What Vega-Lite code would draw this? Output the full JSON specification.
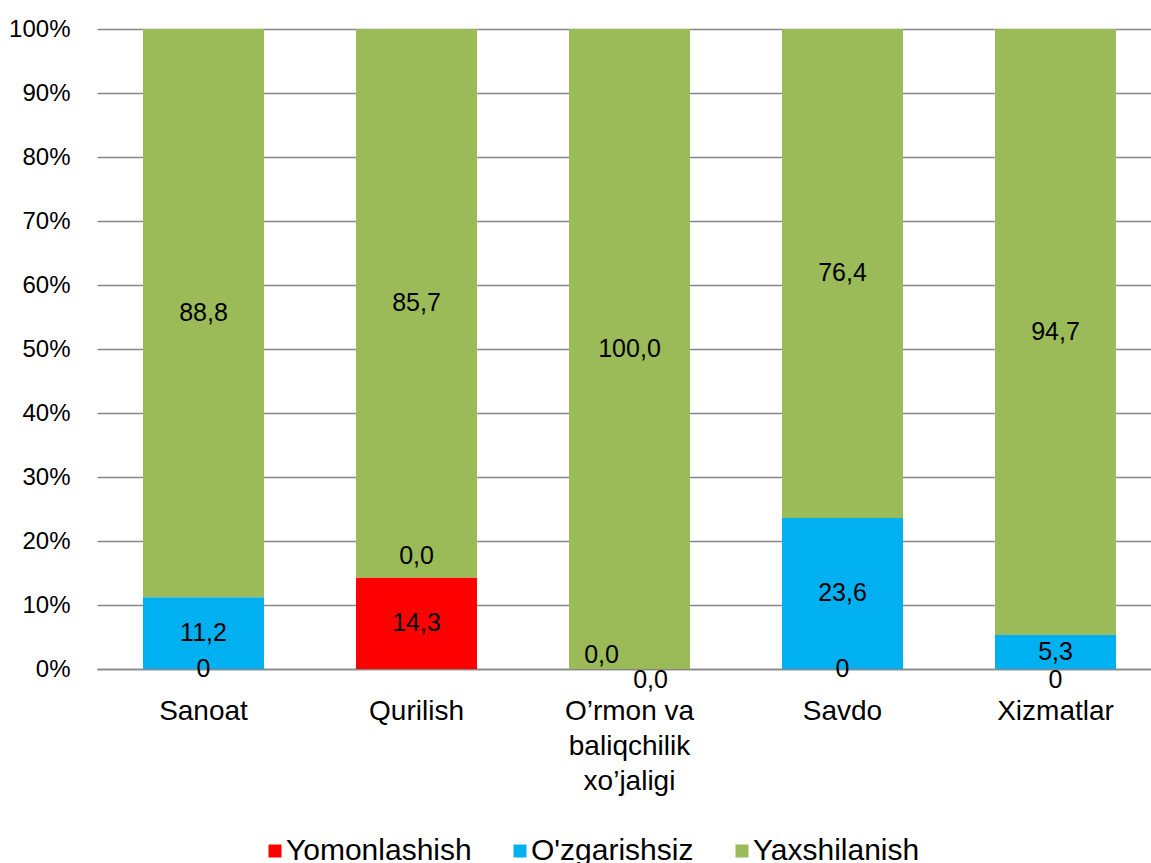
{
  "$schema": "https://vega.github.io/schema/vega-lite/v6.json",
  "autosize": {"type": "none"},
  "width": 1054,
  "height": 640,
  "padding": {"left": 97, "top": 29, "right": 0, "bottom": 194},
  "background": "white",
  "config": {
    "view": {"stroke": null},
    "font": "Liberation Sans",
    "text": {"font": "Liberation Sans"}
  },
  "data": {
    "values": [
      {"cat": "Sanoat", "series": "Yomonlashish", "value": 0, "label": "0"},
      {"cat": "Sanoat", "series": "O'zgarishsiz", "value": 11.2, "label": "11,2"},
      {"cat": "Sanoat", "series": "Yaxshilanish", "value": 88.8, "label": "88,8"},
      {"cat": "Qurilish", "series": "Yomonlashish", "value": 14.3, "label": "14,3"},
      {"cat": "Qurilish", "series": "O'zgarishsiz", "value": 0, "label": "0,0"},
      {"cat": "Qurilish", "series": "Yaxshilanish", "value": 85.7, "label": "85,7"},
      {"cat": "O’rmon va|baliqchilik|xo’jaligi", "series": "Yomonlashish", "value": 0, "label": "0,0"},
      {"cat": "O’rmon va|baliqchilik|xo’jaligi", "series": "O'zgarishsiz", "value": 0, "label": "0,0"},
      {"cat": "O’rmon va|baliqchilik|xo’jaligi", "series": "Yaxshilanish", "value": 100, "label": "100,0"},
      {"cat": "Savdo", "series": "Yomonlashish", "value": 0, "label": "0"},
      {"cat": "Savdo", "series": "O'zgarishsiz", "value": 23.6, "label": "23,6"},
      {"cat": "Savdo", "series": "Yaxshilanish", "value": 76.4, "label": "76,4"},
      {"cat": "Xizmatlar", "series": "Yomonlashish", "value": 0, "label": "0"},
      {"cat": "Xizmatlar", "series": "O'zgarishsiz", "value": 5.3, "label": "5,3"},
      {"cat": "Xizmatlar", "series": "Yaxshilanish", "value": 94.7, "label": "94,7"}
    ]
  },
  "transform": [
    {"calculate": "indexof(['Yomonlashish', \"O'zgarishsiz\", 'Yaxshilanish'], datum.series)", "as": "order"},
    {"stack": "value", "groupby": ["cat"], "sort": [{"field": "order", "order": "ascending"}], "as": ["v0", "v1"], "offset": "normalize"},
    {"calculate": "(datum.v0 + datum.v1) / 2", "as": "mid"}
  ],
  "encoding": {
    "x": {
      "field": "cat",
      "type": "nominal",
      "sort": ["Sanoat", "Qurilish", "O’rmon va|baliqchilik|xo’jaligi", "Savdo", "Xizmatlar"],
      "scale": {"range": [0, 1065], "paddingInner": 0.432, "paddingOuter": 0.216},
      "axis": {
        "title": null,
        "labelAngle": 0,
        "ticks": false,
        "domain": true,
        "domainColor": "#868686",
        "domainWidth": 1.3,
        "grid": false,
        "labelFontSize": 28,
        "labelColor": "black",
        "labelPadding": 28,
        "labelLineHeight": 35,
        "labelExpr": "split(datum.label, '|')"
      }
    }
  },
  "layer": [
    {
      "mark": {"type": "bar"},
      "encoding": {
        "y": {
          "field": "v0",
          "type": "quantitative",
          "scale": {"domain": [0, 1], "nice": false},
          "axis": {
            "title": null,
            "values": [0, 0.1, 0.2, 0.3, 0.4, 0.5, 0.6, 0.7, 0.8, 0.9, 1],
            "format": ".0%",
            "grid": true,
            "gridColor": "#868686",
            "gridWidth": 1.3,
            "ticks": false,
            "domain": false,
            "labelFontSize": 24,
            "labelColor": "black",
            "labelPadding": 27
          }
        },
        "y2": {"field": "v1"},
        "color": {
          "field": "series",
          "type": "nominal",
          "scale": {
            "domain": ["Yomonlashish", "O'zgarishsiz", "Yaxshilanish"],
            "range": ["#FF0000", "#00B0F0", "#9BBB59"]
          },
          "legend": {
            "title": null,
            "orient": "none",
            "legendX": 163,
            "legendY": 807,
            "direction": "horizontal",
            "symbolType": "square",
            "symbolSize": 169,
            "symbolStrokeWidth": 0,
            "symbolOpacity": 1,
            "labelFontSize": 30,
            "labelLimit": 400,
            "labelColor": "black",
            "labelOffset": -4,
            "columnPadding": 33,
            "padding": 0
          }
        }
      }
    },
    {
      "transform": [{"filter": "!((datum.cat == 'Qurilish' && datum.order == 1) || (test(/baliq/, datum.cat) && datum.order <= 1) || (datum.cat == 'Xizmatlar' && datum.order == 0))"}],
      "mark": {"type": "text", "fontSize": 25, "color": "black", "baseline": "middle"},
      "encoding": {"y": {"field": "mid", "type": "quantitative"}, "text": {"field": "label"}}
    },
    {
      "transform": [{"filter": "datum.cat == 'Qurilish' && datum.order == 1"}],
      "mark": {"type": "text", "fontSize": 25, "color": "black", "baseline": "middle", "dy": -21},
      "encoding": {"y": {"field": "mid", "type": "quantitative"}, "text": {"field": "label"}}
    },
    {
      "transform": [{"filter": "test(/baliq/, datum.cat) && datum.order == 1"}],
      "mark": {"type": "text", "fontSize": 25, "color": "black", "baseline": "middle", "dx": -28, "dy": -14},
      "encoding": {"y": {"field": "mid", "type": "quantitative"}, "text": {"field": "label"}}
    },
    {
      "transform": [{"filter": "test(/baliq/, datum.cat) && datum.order == 0"}],
      "mark": {"type": "text", "fontSize": 25, "color": "black", "baseline": "middle", "dx": 21, "dy": 11},
      "encoding": {"y": {"field": "mid", "type": "quantitative"}, "text": {"field": "label"}}
    },
    {
      "transform": [{"filter": "datum.cat == 'Xizmatlar' && datum.order == 0"}],
      "mark": {"type": "text", "fontSize": 25, "color": "black", "baseline": "middle", "dy": 11},
      "encoding": {"y": {"field": "mid", "type": "quantitative"}, "text": {"field": "label"}}
    }
  ]
}
